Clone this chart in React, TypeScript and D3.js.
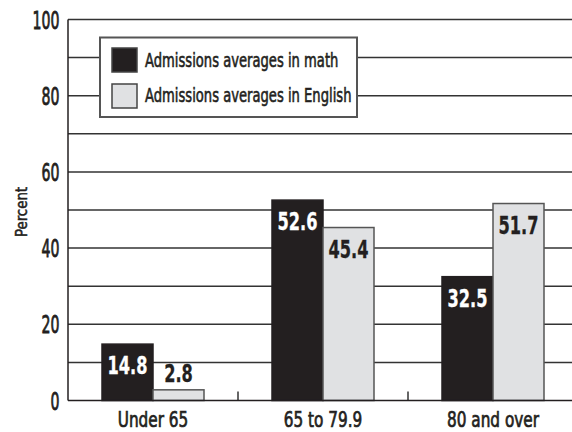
import React from "react";
import * as d3 from "d3";

const categories = ["Under 65", "65 to 79.9", "80 and over"];
const seriesNames = ["Admissions averages in math", "Admissions averages in English"];
const mathValues = [14.8, 52.6, 32.5];
const englishValues = [2.8, 45.4, 51.7];
const yTicks = [0, 20, 40, 60, 80, 100];
const gridValues = [10, 20, 30, 40, 50, 60, 70, 80, 90, 100];

const W = 572;
const H = 432;
const FONT = "'DejaVu Sans Condensed', 'DejaVu Sans', sans-serif";
const colors = ["#231f20", "#e0e1e3"];
const INK = "#231f20";

type TProps = {
  x: number;
  y: number;
  sx: number;
  size: number;
  anchor?: "start" | "middle" | "end";
  weight?: string;
  fill?: string;
  rotate?: number;
  thick?: number;
  children: React.ReactNode;
};

function T({ x, y, sx, size, anchor = "start", weight = "normal", fill = INK, rotate = 0, thick = 0.6, children }: TProps) {
  return (
    <text
      transform={`translate(${x},${y}) rotate(${rotate}) scale(${sx},1)`}
      textAnchor={anchor}
      fontFamily={FONT}
      fontSize={size}
      fontWeight={weight}
      fill={fill}
      stroke={fill}
      strokeWidth={thick}
    >
      {children}
    </text>
  );
}

export default function App() {
  const left = 68;
  const bottom = 400.5;
  const top = 19.5;
  const x = d3.scaleBand<string>().domain(categories).range([left, left + 510]).padding(0);
  const bw = x.bandwidth();
  const sub = d3.scaleBand<string>().domain(seriesNames).range([bw * 0.2, bw * 0.8]).padding(0);
  const y = d3.scaleLinear().domain([0, 100]).range([bottom, top]);
  const series = [mathValues, englishValues];

  return (
    <svg width={W} height={H} style={{ position: "absolute", left: 0, top: 0, background: "#fff" }}>
      <rect x={0} y={0} width={W} height={H} fill="#fff" />
      {gridValues.map((g) => (
        <line key={g} x1={left} x2={W} y1={y(g)} y2={y(g)} stroke="#333" strokeWidth={1.5} />
      ))}
      {categories.slice(1).map((c) => (
        <line key={c} x1={x(c)!} x2={x(c)!} y1={bottom} y2={bottom - 9} stroke="#333" strokeWidth={1.5} />
      ))}
      {categories.map((c, i) =>
        series.map((vals, s) => {
          const bx = x(c)! + sub(seriesNames[s])!;
          const v = vals[i];
          return (
            <rect
              key={c + s}
              x={bx}
              y={y(v)}
              width={sub.bandwidth()}
              height={bottom - y(v)}
              fill={colors[s]}
              stroke={s === 0 ? INK : "#555"}
              strokeWidth={1.5}
            />
          );
        })
      )}
      {categories.map((c, i) =>
        series.map((vals, s) => {
          const v = vals[i];
          const cx = x(c)! + sub(seriesNames[s])! + sub.bandwidth() / 2;
          const inside = bottom - y(v) > 36;
          return (
            <T
              key={"t" + c + s}
              x={cx}
              y={inside ? y(v) + 30 : y(v) - 8}
              sx={0.75}
              size={24}
              anchor="middle"
              weight="bold"
              thick={0.3}
              fill={s === 0 && inside ? "#fff" : INK}
            >
              {v.toFixed(1)}
            </T>
          );
        })
      )}
      <line x1={left} x2={left} y1={top} y2={bottom} stroke={INK} strokeWidth={1.5} />
      <line x1={left} x2={W} y1={bottom} y2={bottom} stroke={INK} strokeWidth={1.5} />
      {yTicks.map((t) => (
        <T key={t} x={59.5} y={y(t) + 9} sx={0.64} size={24.5} anchor="end" thick={0.8}>
          {t}
        </T>
      ))}
      {categories.map((c) => (
        <T key={c} x={x(c)! + bw / 2} y={426.5} sx={0.79} size={21.5} anchor="middle" thick={0.7}>
          {c}
        </T>
      ))}
      <T x={26.5} y={212} sx={0.9} size={16.5} anchor="middle" rotate={-90} thick={0.5}>
        Percent
      </T>
      <rect x={100} y={37.5} width={257} height={79.5} fill="#fff" stroke="#555" strokeWidth={2} />
      {seriesNames.map((n, i) => (
        <g key={n}>
          <rect x={112} y={48 + i * 36} width={25} height={24} fill={colors[i]} stroke="#444" strokeWidth={1.5} />
          <T x={145} y={67 + i * 35} sx={0.73} size={20} thick={0.6}>
            {n}
          </T>
        </g>
      ))}
    </svg>
  );
}
